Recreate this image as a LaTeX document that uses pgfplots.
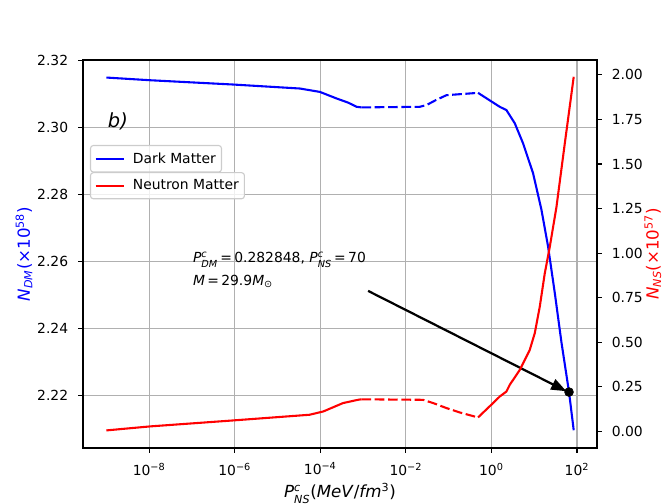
\documentclass[border=0pt]{standalone}
\usepackage{fontspec}
\setmainfont{DejaVu Sans}
\usepackage{amsmath}
\usepackage{pgfplots}
\usepackage{pgfplotstable}
\pgfplotsset{compat=1.18}
\usetikzlibrary{arrows.meta}
\definecolor{gridgray}{RGB}{176,176,176}
\definecolor{legframe}{RGB}{204,204,204}

\pgfplotstableread{
x y
1e-9 2.31486
1.047e-8 2.31406
9.12e-7 2.31278
3.31e-5 2.31159
9.77e-5 2.31058
2.40e-4 2.30862
4.47e-4 2.30738
7.08e-4 2.30613
9.12e-4 2.30595
}\dmA
\pgfplotstableread{
x y
9.12e-4 2.30595
0.02113 2.30613
0.0302 2.30663
0.0501 2.30812
0.0891 2.30960
0.4864 2.31029
}\dmB
\pgfplotstableread{
x y
0.4864 2.31029
1.563 2.30613
2.239 2.30515
3.516 2.30120
5.470 2.29526
9.376 2.28635
14.72 2.27545
20.99 2.26455
30.13 2.25071
43.25 2.23586
65.01 2.22100
83.75 2.20960
}\dmC
\pgfplotstableread{
x y
1e-9 0.0056
1.047e-8 0.028
9.12e-7 0.0615
5.62e-5 0.0934
1.175e-4 0.1118
3.39e-4 0.1588
7.59e-4 0.1772
9.12e-4 0.1800
}\nsA
\pgfplotstableread{
x y
9.12e-4 0.1800
0.02512 0.1772
0.04365 0.1588
0.0891 0.1308
0.182 0.1062
0.4864 0.0783
}\nsB
\pgfplotstableread{
x y
0.4864 0.0783
1.089 0.1588
1.563 0.1957
2.239 0.2236
2.679 0.2611
4.592 0.3450
7.852 0.4568
10.28 0.5502
13.46 0.6989
17.62 0.8857
23.07 1.0344
33.04 1.2580
51.64 1.6125
83.75 1.9888
}\nsC

\begin{document}
\begin{tikzpicture}
\begin{axis}[
  width=370.08pt, height=279.36pt, scale only axis,
  xmode=log, xmin=2.85e-10, xmax=293,
  tick align=outside, major tick length=3.5pt,
  tick style={line width=0.8pt, black},
  axis line style={line width=0.8pt},
  /pgf/number format/assume math mode=true,
  ticklabel style={font=\fontsize{10}{12}\selectfont},
  ymin=2.2043, ymax=2.3201,
  ytick={2.22,2.24,2.26,2.28,2.30,2.32},
  yticklabel style={/pgf/number format/.cd, fixed, fixed zerofill, precision=2, /tikz/.cd, inner sep=0pt, anchor=east, xshift=-7pt},
  xtick={1e-8,1e-6,1e-4,1e-2,1,100},
  xticklabels={10\textsuperscript{−8},10\textsuperscript{−6},10\textsuperscript{−4},10\textsuperscript{−2},10\textsuperscript{0},10\textsuperscript{2}},
  xticklabel style={inner sep=0pt, anchor=north, yshift=-7pt},
  xtick pos=left, ytick pos=left,
  grid=major, major grid style={gridgray, line width=0.8pt},
  xlabel={\textit{P}$^{\textit{c}}_{\textit{NS}}$(\textit{MeV}/\textit{fm}$^{\text{3}}$)},
  xlabel style={font=\fontsize{12}{14}\selectfont, at={(axis description cs:0.5,0)}, anchor=base, yshift=-36pt},
  ylabel={\textit{N}$_{\textit{DM}}$(×10$^{\text{58}}$)},
  ylabel style={font=\fontsize{12}{14}\selectfont, blue, at={(axis description cs:0,0.5)}, anchor=center, rotate=0, yshift=42.5pt},
  legend style={at={(rel axis cs:0.0136,0.781)}, anchor=north west, draw=legframe, line width=0.8pt,
      rounded corners=2pt, fill=white, fill opacity=0.8, text opacity=1,
      font=\fontsize{10}{12}\selectfont, inner xsep=2pt, inner ysep=3pt},
  legend cell align=left,
  legend image code/.code={\draw[#1] (0pt,0pt) -- (20pt,0pt); \path (-1pt,0pt) (24pt,0pt);},
]
\addplot[blue, line width=1.5pt] table[x=x,y=y] {\dmA};
\addlegendentry{Dark Matter}
\addplot[blue, line width=1.5pt, dash pattern=on 7pt off 2.6pt, forget plot] table[x=x,y=y] {\dmB};
\addplot[blue, line width=1.5pt, forget plot] table[x=x,y=y] {\dmC};
\addplot[only marks, mark=*, mark size=3.2pt, black, forget plot] coordinates {(65.01,2.2210)};
\node[anchor=base west, inner sep=0pt, font=\fontsize{14}{16}\selectfont\itshape] at (rel axis cs:0.048,0.827) {b)};
\node[anchor=base west, inner sep=0pt, font=\fontsize{10}{12}\selectfont] at (axis cs:1.05e-7,2.25962) {\textit{P}$^{\textit{c}}_{\textit{DM}}$\,=\,0.282848, \textit{P}$^{\textit{c}}_{\textit{NS}}$\,=\,70};
\node[anchor=base west, inner sep=0pt, font=\fontsize{10}{12}\selectfont] at (axis cs:1.05e-7,2.25288) {\textit{M}\,=\,29.9\textit{M}$_{\text{⊙}}$};
\draw[line width=1.6pt, -{Triangle[length=11pt,width=8pt]}] (axis cs:1.31e-3,2.25119) -- (axis cs:56.5,2.22124);
\end{axis}
\begin{axis}[
  width=370.08pt, height=279.36pt, scale only axis,
  xmode=log, xmin=2.85e-10, xmax=293,
  tick align=outside, major tick length=3.5pt,
  tick style={line width=0.8pt, black},
  axis line style={line width=0.8pt},
  /pgf/number format/assume math mode=true,
  ticklabel style={font=\fontsize{10}{12}\selectfont},
  hide x axis, axis y line*=right,
  ymin=-0.093, ymax=2.083,
  ytick={0,0.25,0.5,0.75,1,1.25,1.5,1.75,2},
  yticklabel style={/pgf/number format/.cd, fixed, fixed zerofill, precision=2, /tikz/.cd, inner sep=0pt, anchor=west, xshift=7pt},
  ytick pos=right,
  ylabel={\textit{N}$_{\textit{NS}}$(×10$^{\text{57}}$)},
  ylabel style={font=\fontsize{12}{14}\selectfont, red, at={(axis description cs:1,0.5)}, anchor=center, yshift=-40.3pt},
  legend style={at={(rel axis cs:0.0136,0.711)}, anchor=north west, draw=legframe, line width=0.8pt,
      rounded corners=2pt, fill=white, fill opacity=0.8, text opacity=1,
      font=\fontsize{10}{12}\selectfont, inner xsep=2pt, inner ysep=3pt},
  legend cell align=left,
  legend image code/.code={\draw[#1] (0pt,0pt) -- (20pt,0pt); \path (-1pt,0pt) (24pt,0pt);},
]
\addplot[red, line width=1.5pt] table[x=x,y=y] {\nsA};
\addlegendentry{Neutron Matter}
\addplot[red, line width=1.5pt, dash pattern=on 7pt off 2.6pt, forget plot] table[x=x,y=y] {\nsB};
\addplot[red, line width=1.5pt, forget plot] table[x=x,y=y] {\nsC};
\end{axis}
\pgfresetboundingbox
\path[use as bounding box] (-59.76pt,-40.32pt) rectangle (417.6pt,322.56pt);
\end{tikzpicture}
\end{document}
